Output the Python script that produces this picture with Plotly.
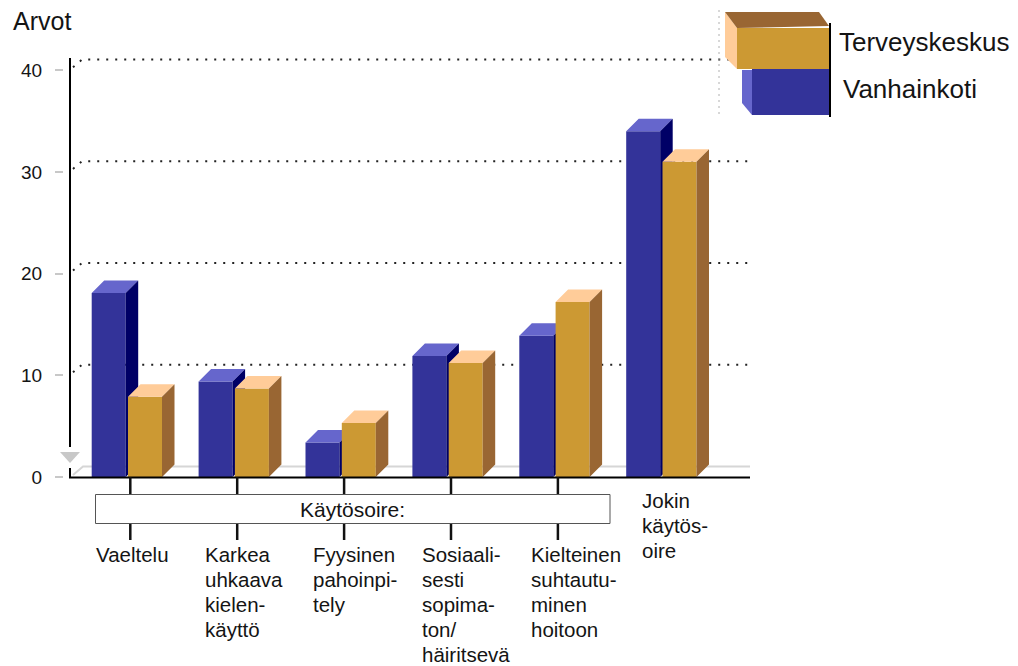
import plotly.graph_objects as go

# ---------------- data ----------------
categories = ["Vaeltelu", "Karkea uhkaava kielenkäyttö", "Fyysinen pahoinpitely",
              "Sosiaalisesti sopimaton/häiritsevä", "Kielteinen suhtautuminen hoitoon",
              "Jokin käytösoire"]
label_lines = [["Vaeltelu"],
               ["Karkea", "uhkaava", "kielen-", "käyttö"],
               ["Fyysinen", "pahoinpi-", "tely"],
               ["Sosiaali-", "sesti", "sopima-", "ton/", "häiritsevä"],
               ["Kielteinen", "suhtautu-", "minen", "hoitoon"],
               ["Jokin", "käytös-", "oire"]]
vanhainkoti = [18.1, 9.4, 3.4, 11.9, 13.9, 34.0]
terveyskeskus = [7.9, 8.7, 5.3, 11.2, 17.2, 31.0]
y_ticks = [0, 10, 20, 30, 40]
series_names = ["Terveyskeskus", "Vanhainkoti"]
group_title = "Käytösoire:"
y_title = "Arvot"

# ---------------- layout geometry (pixels) ----------------
W, H = 1018, 666
PL, PT, PR, PB = 63, 58, 750, 477          # plot area
PW, PH = PR - PL, PB - PT
AX_X = 70                                   # y axis line x
C0, CSTEP = 130.3, 106.9                    # category centre px
XR = [(AX_X - C0) / CSTEP, (PR - C0) / CSTEP]
YR = [0, 41.2]
YPX = PH / (YR[1] - YR[0])

def xd(px):  # pixel -> x data
    return XR[0] + (px - AX_X) / CSTEP

def yd(py):  # pixel -> y data
    return (PB - py) / YPX

def xp(px):  # pixel -> paper
    return (px - PL) / PW

def yp(py):
    return (PB - py) / PH

n = len(categories)
xs = list(range(n))
BW = 34 / CSTEP
BLUE_OFF = -38.6 / CSTEP
ORANGE_OFF = -2.3 / CSTEP
DX = 12.5 / CSTEP
DY = 12.5 / YPX

BLUE = dict(front="#333399", top="#6666cc", side="#000066")
ORNG = dict(front="#cc9933", top="#ffcc99", side="#996633")


def faces(vals, off):
    tx, ty, sx, sy = [], [], [], []
    for i, v in zip(xs, vals):
        xl = i + off
        xr = xl + BW
        tx += [xl, xl + DX, xr + DX, xr, xl, None]
        ty += [v, v + DY, v + DY, v, v, None]
        sx += [xr, xr + DX, xr + DX, xr, xr, None]
        sy += [0, DY, v + DY, v, 0, None]
    return tx, ty, sx, sy


fig = go.Figure()

# blue series (back layer)
fig.add_trace(go.Bar(x=xs, y=vanhainkoti, width=BW, offset=BLUE_OFF,
                     marker=dict(color=BLUE["front"], line=dict(width=0)),
                     name=series_names[1], showlegend=False, hoverinfo="y"))
tx, ty, sx, sy = faces(vanhainkoti, BLUE_OFF)
fig.add_trace(go.Scatter(x=tx, y=ty, fill="toself", fillcolor=BLUE["top"], mode="none",
                         showlegend=False, hoverinfo="skip"))
fig.add_trace(go.Scatter(x=sx, y=sy, fill="toself", fillcolor=BLUE["side"], mode="none",
                         showlegend=False, hoverinfo="skip"))

# orange series (front layer, on overlaid axis)
fig.add_trace(go.Bar(x=xs, y=terveyskeskus, width=BW, offset=ORANGE_OFF,
                     marker=dict(color=ORNG["front"], line=dict(width=0)),
                     name=series_names[0], showlegend=False, hoverinfo="y",
                     xaxis="x2", yaxis="y"))
tx, ty, sx, sy = faces(terveyskeskus, ORANGE_OFF)
fig.add_trace(go.Scatter(x=tx, y=ty, fill="toself", fillcolor=ORNG["top"], mode="none",
                         showlegend=False, hoverinfo="skip", xaxis="x2", yaxis="y"))
fig.add_trace(go.Scatter(x=sx, y=sy, fill="toself", fillcolor=ORNG["side"], mode="none",
                         showlegend=False, hoverinfo="skip", xaxis="x2", yaxis="y"))

shapes = []
WALL_DX, WALL_DY = 12, 10.6
# dotted back-wall gridlines
for t in y_ticks[1:]:
    y0 = t
    y1 = t + WALL_DY / YPX
    shapes.append(dict(type="path", xref="x", yref="y", layer="below",
                       path=f"M {xd(AX_X + 3)},{y0 + 3 / YPX} L {xd(AX_X + WALL_DX)},{y1} L {xd(PR)},{y1}",
                       line=dict(color="#222222", width=2, dash="2px,7px")))
# floor line
shapes.append(dict(type="path", xref="x", yref="y", layer="below",
                   path=f"M {xd(AX_X + 3)},{yd(PB - 2)} L {xd(AX_X + 13)},{yd(PB - WALL_DY)} L {xd(PR)},{yd(PB - WALL_DY)}",
                   line=dict(color="#d6d6d6", width=2)))
# y axis line (with gap) and x axis line
shapes.append(dict(type="line", xref="paper", yref="paper", x0=xp(AX_X), x1=xp(AX_X),
                   y0=yp(PB), y1=yp(468), line=dict(color="black", width=2)))
shapes.append(dict(type="line", xref="paper", yref="paper", x0=xp(AX_X), x1=xp(AX_X),
                   y0=yp(447), y1=yp(PT), line=dict(color="black", width=2)))
shapes.append(dict(type="path", xref="paper", yref="paper",
                   path=f"M {xp(60)},{yp(452)} L {xp(80)},{yp(452)} L {xp(70)},{yp(463)} Z",
                   fillcolor="#c8c8c8", line=dict(width=0)))
shapes.append(dict(type="line", xref="paper", yref="paper", x0=xp(AX_X - 1), x1=xp(PR),
                   y0=yp(PB + 0.5), y1=yp(PB + 0.5), line=dict(color="black", width=2)))
# category ticks and group box
for i in xs[:-1]:
    shapes.append(dict(type="line", xref="x", yref="paper", x0=i, x1=i,
                       y0=yp(PB), y1=yp(494), line=dict(color="#111111", width=2.5)))
    shapes.append(dict(type="line", xref="x", yref="paper", x0=i, x1=i,
                       y0=yp(524), y1=yp(540), line=dict(color="#111111", width=2.5)))
shapes.append(dict(type="rect", xref="paper", yref="paper", x0=xp(95.5), x1=xp(610),
                   y0=yp(494.5), y1=yp(523.5), line=dict(color="#555555", width=1)))

# legend graphics
def poly(pts):
    return "M " + " L ".join(f"{xp(a)},{yp(b)}" for a, b in pts) + " Z"

shapes.append(dict(type="line", xref="paper", yref="paper", x0=xp(719), x1=xp(719),
                   y0=yp(10), y1=yp(117), line=dict(color="#b0b0b0", width=1, dash="2px,4px")))
shapes.append(dict(type="path", xref="paper", yref="paper",
                   path=poly([(742, 70), (752, 70), (752, 115), (742, 103)]),
                   fillcolor=BLUE["top"], line=dict(width=0)))
shapes.append(dict(type="rect", xref="paper", yref="paper", x0=xp(752), x1=xp(829),
                   y0=yp(115), y1=yp(69), fillcolor=BLUE["front"], line=dict(width=0)))
shapes.append(dict(type="path", xref="paper", yref="paper",
                   path=poly([(725, 12), (737, 28), (737, 69), (725, 57)]),
                   fillcolor=ORNG["top"], line=dict(width=0)))
shapes.append(dict(type="path", xref="paper", yref="paper",
                   path=poly([(725, 12), (819, 12), (829, 26), (737, 28)]),
                   fillcolor=ORNG["side"], line=dict(width=0)))
shapes.append(dict(type="rect", xref="paper", yref="paper", x0=xp(737), x1=xp(829),
                   y0=yp(69), y1=yp(28), fillcolor=ORNG["front"], line=dict(width=0)))
shapes.append(dict(type="line", xref="paper", yref="paper", x0=xp(830), x1=xp(830),
                   y0=yp(23), y1=yp(117), line=dict(color="black", width=2)))

FONT = "Liberation Sans, Arial, sans-serif"
TXT = "#141414"
annotations = []
annotations.append(dict(xref="paper", yref="paper", x=xp(11), y=yp(21), xanchor="left",
                        yanchor="middle", text=y_title, showarrow=False,
                        font=dict(family=FONT, size=25, color=TXT)))
annotations.append(dict(xref="paper", yref="paper", x=xp(837), y=yp(42), xanchor="left",
                        yanchor="middle", text=series_names[0], showarrow=False,
                        font=dict(family=FONT, size=26, color=TXT)))
annotations.append(dict(xref="paper", yref="paper", x=xp(841), y=yp(88.5), xanchor="left",
                        yanchor="middle", text=series_names[1], showarrow=False,
                        font=dict(family=FONT, size=26, color=TXT)))
annotations.append(dict(xref="paper", yref="paper", x=xp(352.5), y=yp(509), xanchor="center",
                        yanchor="middle", text=group_title, showarrow=False,
                        font=dict(family=FONT, size=21, color=TXT)))
for i, lines in enumerate(label_lines):
    if i < n - 1:
        left, top = 95 + 108.7 * i, 554.5
    else:
        left, top = 641, 500.5
    for k, line in enumerate(lines):
        annotations.append(dict(xref="paper", yref="paper", x=xp(left), y=yp(top + 24.9 * k),
                                xanchor="left", yanchor="middle", text=line, showarrow=False,
                                borderpad=0,
                                font=dict(family=FONT, size=20.5, color=TXT)))

fig.update_layout(
    width=W, height=H,
    margin=dict(l=PL, r=W - PR, t=PT, b=H - PB, pad=0),
    paper_bgcolor="white", plot_bgcolor="white",
    showlegend=False,
    xaxis=dict(domain=[xp(AX_X), 1], range=XR, visible=False, fixedrange=True),
    xaxis2=dict(domain=[xp(AX_X), 1], range=XR, visible=False, overlaying="x",
                anchor="y", fixedrange=True),
    yaxis=dict(range=YR, anchor="free", position=0, tickvals=y_ticks,
               ticks="outside", ticklen=8, tickwidth=2, tickcolor="#c8c8c8",
               showline=False, showgrid=False, zeroline=False, ticklabelstandoff=9,
               tickfont=dict(family=FONT, size=19, color=TXT), fixedrange=True),
    shapes=shapes, annotations=annotations,
)

fig.write_html("out.html")
